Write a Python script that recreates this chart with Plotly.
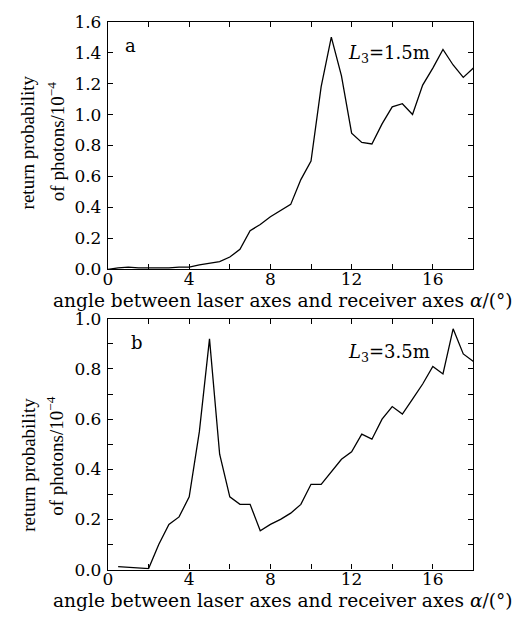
import plotly.graph_objects as go

# Panel a: L3 = 1.5 m
xa = [0.0, 0.5, 1.0, 1.5, 2.0, 2.5, 3.0, 3.5, 4.0, 4.5, 5.0, 5.5, 6.0, 6.5, 7.0, 7.5, 8.0, 8.5, 9.0,
      9.5, 10.0, 10.5, 11.0, 11.5, 12.0, 12.5, 13.0, 13.5, 14.0, 14.5, 15.0, 15.5, 16.0, 16.5, 17.0, 17.5, 18.0]
ya = [0.0, 0.01, 0.015, 0.01, 0.01, 0.01, 0.01, 0.015, 0.015, 0.03, 0.04, 0.05, 0.08, 0.13, 0.25, 0.29, 0.34, 0.38, 0.42,
      0.58, 0.70, 1.18, 1.50, 1.25, 0.88, 0.82, 0.81, 0.94, 1.05, 1.07, 1.00, 1.19, 1.30, 1.42, 1.32, 1.24, 1.30]

# Panel b: L3 = 3.5 m
xb = [0.5, 1.0, 1.5, 2.0, 2.5, 3.0, 3.5, 4.0, 4.5, 5.0, 5.5, 6.0, 6.5, 7.0, 7.5, 8.0, 8.5, 9.0, 9.5,
      10.0, 10.5, 11.0, 11.5, 12.0, 12.5, 13.0, 13.5, 14.0, 14.5, 15.0, 15.5, 16.0, 16.5, 17.0, 17.5, 18.0]
yb = [0.012, 0.009, 0.006, 0.004, 0.10, 0.18, 0.21, 0.29, 0.55, 0.92, 0.46, 0.29, 0.26, 0.26, 0.155, 0.18, 0.20, 0.225, 0.26,
      0.34, 0.34, 0.39, 0.44, 0.47, 0.54, 0.52, 0.60, 0.65, 0.62, 0.68, 0.74, 0.81, 0.78, 0.96, 0.86, 0.83]

xtickvals = [0, 4, 8, 12, 16]
xminor = [2, 6, 10, 14]
ytick_a = [0.0, 0.2, 0.4, 0.6, 0.8, 1.0, 1.2, 1.4, 1.6]
ytick_b = [0.0, 0.2, 0.4, 0.6, 0.8, 1.0]
yminor_b = [0.1, 0.3, 0.5, 0.7, 0.9]

SERIF = "DejaVu Serif"
TIMES = "Liberation Serif"
W, H = 517, 627

fig = go.Figure()
fig.add_trace(go.Scatter(x=xa, y=ya, mode="lines", line=dict(color="black", width=1.3),
                         xaxis="x", yaxis="y", showlegend=False))
fig.add_trace(go.Scatter(x=xb, y=yb, mode="lines", line=dict(color="black", width=1.3),
                         xaxis="x2", yaxis="y2", showlegend=False))

xdom = [104 / W, 473 / W]
tickfont = dict(family=SERIF, size=17, color="black")
common_x = dict(range=[0, 18], tickvals=xtickvals, ticktext=[str(v) for v in xtickvals],
                ticks="inside", ticklen=5, tickwidth=1.2, tickcolor="black",
                minor=dict(tickvals=xminor, ticks="inside", ticklen=5, tickwidth=1.2, tickcolor="black"),
                showline=True, linecolor="black", linewidth=1.3, mirror="ticks",
                showgrid=False, zeroline=False, ticklabelstandoff=-6,
                tickfont=tickfont, domain=xdom)
common_y = dict(ticks="inside", ticklen=5, tickwidth=1.2, tickcolor="black",
                showline=True, linecolor="black", linewidth=1.3, mirror="ticks",
                showgrid=False, zeroline=False, ticklabelstandoff=2,
                tickfont=tickfont)

fig.update_layout(
    width=W, height=H,
    margin=dict(l=0, r=0, t=0, b=0),
    paper_bgcolor="white", plot_bgcolor="white",
    xaxis=dict(**common_x, anchor="y"),
    yaxis=dict(**common_y, range=[0, 1.6], tickvals=ytick_a,
               ticktext=[f"{v:.1f}" for v in ytick_a],
               domain=[1 - 268 / H, 1 - 12 / H], anchor="x"),
    xaxis2=dict(**common_x, anchor="y2"),
    yaxis2=dict(**common_y, range=[0, 1.0], tickvals=ytick_b,
                ticktext=[f"{v:.1f}" for v in ytick_b],
                minor=dict(tickvals=yminor_b, ticks="inside", ticklen=5, tickwidth=1.2, tickcolor="black"),
                domain=[1 - 578 / H, 1 - 319 / H], anchor="x2"),
)

xtitle = "angle between laser axes and receiver axes <i>α</i>/(°)"
ytitle1 = "return probability"
ytitle2 = "of photons/10<sup>−4</sup>"
xfont = dict(family=SERIF, size=18.6, color="black")
yfont = dict(family=TIMES, size=19, color="black")
lfont = dict(family=SERIF, size=18, color="black")


def ann(text, px, py, font, angle=0, xanchor="center"):
    return dict(text=text, x=px / W, y=1 - py / H, xref="paper", yref="paper",
                textangle=angle, xanchor=xanchor, yanchor="middle",
                showarrow=False, font=font)


anns = [
    ann(xtitle, 281, 300, xfont),
    ann(xtitle, 281, 610, xfont),
    ann(ytitle1, 23, 137, yfont, -90),
    ann(ytitle2, 51, 136, yfont, -90),
    ann(ytitle1, 23, 470, yfont, -90),
    ann(ytitle2, 51, 461, yfont, -90),
    ann("a", 127, 37, lfont),
    ann("b", 133, 343, lfont),
    ann("<i>L</i><sub>3</sub>=1.5m", 344, 45, lfont, xanchor="left"),
    ann("<i>L</i><sub>3</sub>=3.5m", 344, 354, lfont, xanchor="left"),
]
fig.update_layout(annotations=anns)

fig.write_html("out.html")
